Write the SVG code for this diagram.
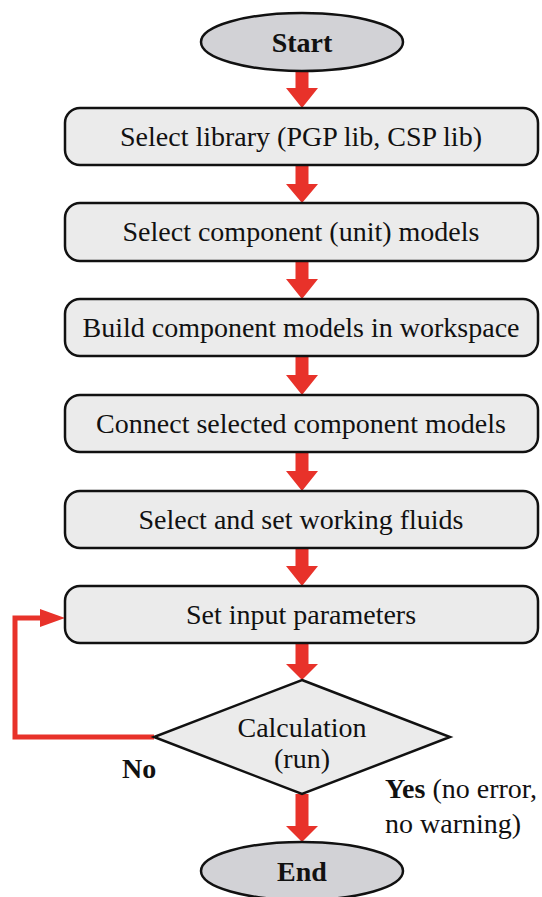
<svg xmlns="http://www.w3.org/2000/svg" width="542" height="897" viewBox="0 0 542 897">
<style>
.box{fill:#ebebeb;stroke:#111;stroke-width:2.5}
.term{fill:#d2d2d6;stroke:#111;stroke-width:2.5}
.t{font-family:"Liberation Serif","Times New Roman",serif;font-size:28px;fill:#111;text-anchor:middle}
.b{font-weight:bold}
.arr{fill:#e8322a;stroke:none}
.loop{fill:none;stroke:#e8322a;stroke-width:5}
.lbl{font-family:"Liberation Serif","Times New Roman",serif;font-size:28px;fill:#111}
</style>
<rect width="542" height="897" fill="#fff"/>
<g id="connectors">
<path class="arr" d="M295.5,71H308.5V88H318L302,108L286,88H295.5Z"/>
<path class="arr" d="M295.5,165H308.5V184H318L302,203L286,184H295.5Z"/>
<path class="arr" d="M295.5,261H308.5V279H318L302,299L286,279H295.5Z"/>
<path class="arr" d="M295.5,356H308.5V375H318L302,395L286,375H295.5Z"/>
<path class="arr" d="M295.5,452H308.5V471H318L302,491L286,471H295.5Z"/>
<path class="arr" d="M295.5,548H308.5V566H318L302,586L286,566H295.5Z"/>
<path class="arr" d="M295.5,643H308.5V664H318L302,680L286,664H295.5Z"/>
<path class="arr" d="M295.5,794H308.5V826H318L302,842L286,826H295.5Z"/>
<path class="loop" d="M154,737H15V618H42"/>
<path class="arr" d="M40,609L65,618L40,627Z"/>
</g>
<g id="start"><ellipse class="term" cx="302" cy="42" rx="101" ry="29"/><text class="t b" x="302" y="52" font-size="30">Start</text></g>
<g id="n1"><rect class="box" x="65" y="108" width="473" height="57" rx="15"/><text class="t" x="301" y="146">Select library (PGP lib, CSP lib)</text></g>
<g id="n2"><rect class="box" x="65" y="203" width="473" height="58" rx="15"/><text class="t" x="301" y="241">Select component (unit) models</text></g>
<g id="n3"><rect class="box" x="65" y="299" width="473" height="57" rx="15"/><text class="t" x="301" y="337">Build component models in workspace</text></g>
<g id="n4"><rect class="box" x="65" y="395" width="473" height="57" rx="15"/><text class="t" x="301" y="433">Connect selected component models</text></g>
<g id="n5"><rect class="box" x="65" y="491" width="473" height="57" rx="15"/><text class="t" x="301" y="529">Select and set working fluids</text></g>
<g id="n6"><rect class="box" x="65" y="586" width="473" height="57" rx="15"/><text class="t" x="301" y="624">Set input parameters</text></g>
<g id="calc"><polygon class="box" points="302,680 450,737 302,794 154,737"/><text class="t" x="302" y="737">Calculation</text><text class="t" x="302" y="768">(run)</text></g>
<g id="end"><ellipse class="term" cx="302" cy="871" rx="101" ry="29"/><text class="t b" x="302" y="881">End</text></g>
<text class="lbl b" x="122" y="778">No</text>
<text class="lbl" x="385" y="798"><tspan font-weight="bold">Yes</tspan> (no error,</text>
<text class="lbl" x="385" y="833">no warning)</text>
</svg>
